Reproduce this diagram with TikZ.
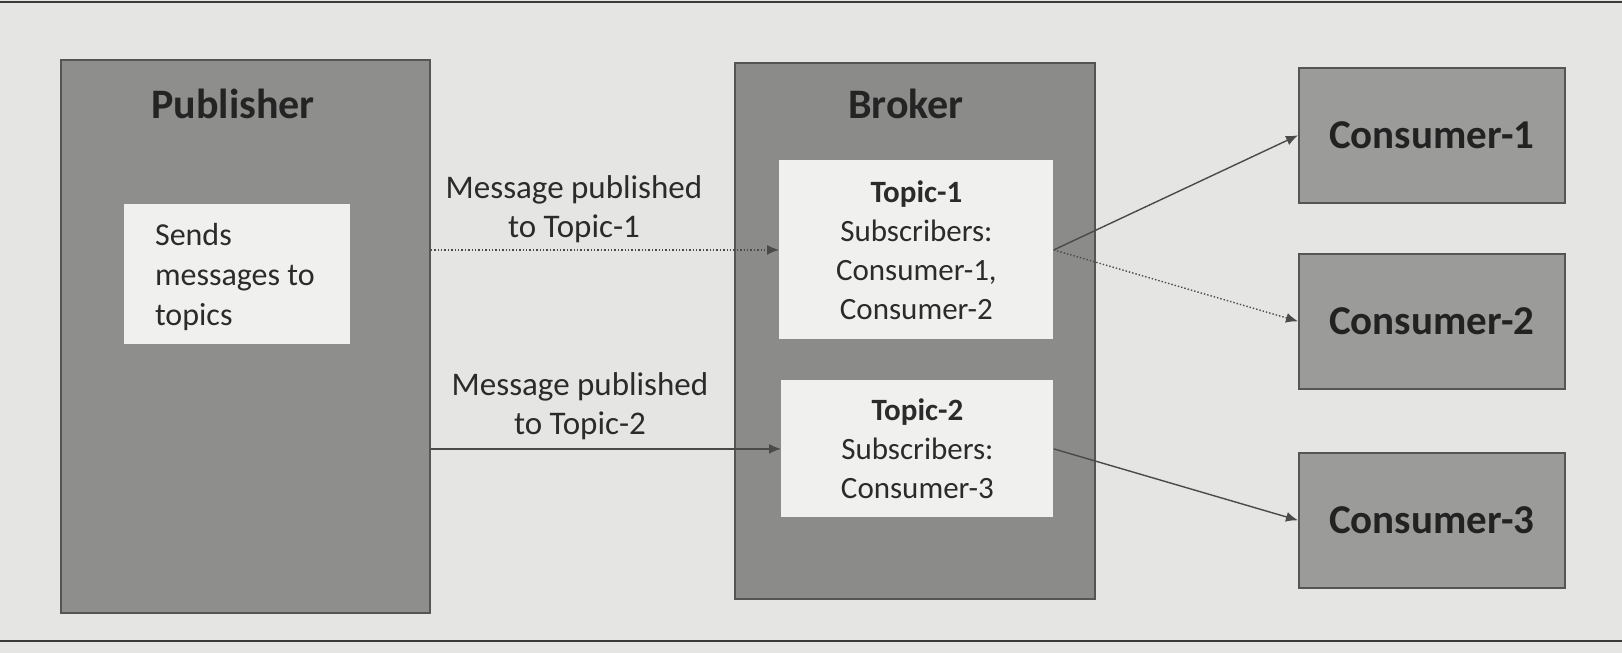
\documentclass[tikz,border=0pt]{standalone}
\usepackage{fontspec}
\setmainfont{Carlito}
\usetikzlibrary{arrows.meta}
\definecolor{pagebg}{HTML}{E5E5E3}
\definecolor{pubfill}{HTML}{8E8E8C}
\definecolor{brokfill}{HTML}{8B8B89}
\definecolor{consfill}{HTML}{9B9B99}
\definecolor{whitebox}{HTML}{F0F0EE}
\definecolor{edgegray}{HTML}{555555}
\definecolor{inkgray}{HTML}{2B2B2B}
\definecolor{arrowgray}{HTML}{4A4A4A}
\tikzset{
  bigbox/.style={draw=edgegray, line width=0.9pt, rectangle, anchor=north west, inner sep=0pt},
  innerbox/.style={fill=whitebox, draw=none, rectangle, anchor=north west, inner sep=0pt, text=inkgray, align=center, font=\fontsize{15.5}{19.5}\selectfont},
  consbox/.style={fill=consfill, draw=edgegray, line width=0.8pt, rectangle, anchor=north west, inner sep=0pt, minimum width=133pt, minimum height=67.5pt, text=inkgray!80!black, font=\bfseries\fontsize{20.5}{24}\selectfont},
  titletext/.style={text=inkgray!85!black, font=\bfseries\fontsize{21}{24}\selectfont},
  msglabel/.style={text=inkgray, align=center, font=\fontsize{16.5}{19.5}\selectfont},
  conn/.style={draw=arrowgray, line width=0.7pt, -{Latex[length=6pt,width=5pt]}},
}
\begin{document}
\begin{tikzpicture}[x=0.5pt,y=-0.5pt]
\fill[pagebg] (0,0) rectangle (1622,653);
\useasboundingbox (0,0) rectangle (1622,653);
\draw[edgegray!70!black, line width=1pt] (0,2) -- (1622,2);
\draw[edgegray!70!black, line width=1pt] (0,641) -- (1622,641);

% Publisher
\node[bigbox, fill=pubfill, minimum width=184.5pt, minimum height=276.5pt] (pub) at (60,59) {};
\node[titletext] (pubt) at (233,104) {Publisher};
\node[innerbox, minimum width=113pt, minimum height=70pt] (send) at (124,204) {};
\node[text=inkgray, align=left, anchor=west, font=\fontsize{16}{20}\selectfont] (sendt) at (148,277) {Sends\\messages to\\topics};

% Broker
\node[bigbox, fill=brokfill, line width=1.1pt, minimum width=180pt, minimum height=268pt] (brok) at (734,62) {};
\node[titletext] (brokt) at (906,104) {Broker};
\node[innerbox, minimum width=137pt, minimum height=89.5pt] (t1) at (779,160) {\textbf{Topic-1}\\Subscribers:\\Consumer-1,\\Consumer-2};
\node[innerbox, minimum width=136pt, minimum height=68.5pt] (t2) at (781,380) {\textbf{Topic-2}\\Subscribers:\\Consumer-3};

% Consumers
\node[consbox] (c1) at (1298,67) {Consumer-1};
\node[consbox] (c2) at (1298,253) {Consumer-2};
\node[consbox] (c3) at (1298,452) {Consumer-3};

% Labels
\node[msglabel] (m1) at (574,209) {Message published\\to Topic-1};
\node[msglabel] (m2) at (580,406) {Message published\\to Topic-2};

% Connectors
\draw[conn, densely dotted] (pub.east |- t1.west) -- (t1.west);
\draw[conn] (pub.east |- t2.west) -- (t2.west);
\draw[conn] (t1.east) -- (c1.west);
\draw[conn, densely dotted] (t1.east) -- (c2.west);
\draw[conn] (t2.east) -- (c3.west);
\end{tikzpicture}
\end{document}
